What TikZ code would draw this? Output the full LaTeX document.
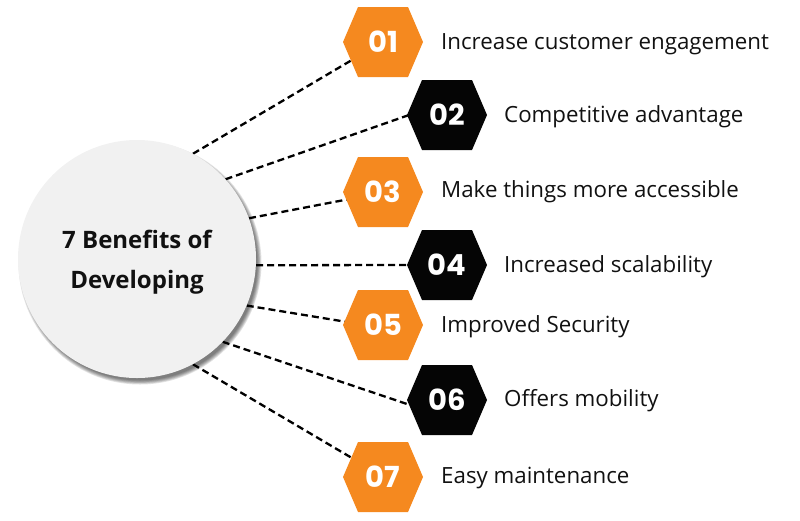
\documentclass[tikz,border=0pt]{standalone}
\usepackage{fontspec}
\setmainfont{Open Sans}
\newfontfamily\numfont{Poppins}
\definecolor{hexorange}{HTML}{F5891F}
\definecolor{hexblack}{HTML}{050505}
\definecolor{circfill}{HTML}{F1F1F1}
\definecolor{txt}{HTML}{111111}
\pgfdeclarelayer{bg}
\pgfsetlayers{bg,main}
\begin{document}
\begin{tikzpicture}[x=1pt,y=-1pt,
  hexnode/.style={rectangle, minimum width=80pt, minimum height=70pt, inner sep=0pt,
    text=white, font=\numfont\bfseries\fontsize{29}{30}\selectfont,
    path picture={\fill[#1]
      ([xshift=15pt]path picture bounding box.north west) --
      ([xshift=-15pt]path picture bounding box.north east) --
      (path picture bounding box.east) --
      ([xshift=-15pt]path picture bounding box.south east) --
      ([xshift=15pt]path picture bounding box.south west) --
      (path picture bounding box.west) -- cycle;}},
  link/.style={dash pattern=on 7pt off 4pt, line width=2.3pt, black},
  itemtext/.style={anchor=base west, inner sep=0pt, text=txt, font=\fontsize{22.3}{24}\selectfont}
]
\useasboundingbox (0,0) rectangle (800,520);

% central circle
\node[circle, fill=circfill, minimum size=238pt, inner sep=0pt, align=center, text=txt,
  font=\bfseries\fontsize{24}{30}\selectfont] (c) at (137,259) {};
\node[align=center, text=txt, inner sep=0pt, font=\bfseries\fontsize{24}{36}\selectfont]
  (title) at (137,262) {7 Benefits of\\[4pt]Developing};
\begin{pgfonlayer}{bg}
  \foreach \k in {0,1,2,3,4,5}
    \fill[black, opacity=0.11] ([shift={(3,4)}]c.center) circle ({117.5+\k*0.8});
\end{pgfonlayer}

% hexagons
\node[hexnode=hexorange] (h1) at (383,42) {01};
\node[hexnode=hexblack]  (h2) at (447,115) {02};
\node[hexnode=hexorange] (h3) at (383,192) {03};
\node[hexnode=hexblack]  (h4) at (447,265) {04};
\node[hexnode=hexorange] (h5) at (383,325) {05};
\node[hexnode=hexblack]  (h6) at (447,400) {06};
\node[hexnode=hexorange] (h7) at (383,477) {07};

% texts
\node[itemtext] (t1) at (441,49.5)  {Increase customer engagement};
\node[itemtext] (t2) at (504,122.5) {Competitive advantage};
\node[itemtext] (t3) at (441,197.5) {Make things more accessible};
\node[itemtext] (t4) at (504,272.5) {Increased scalability};
\node[itemtext] (t5) at (441,332.5) {Improved Security};
\node[itemtext] (t6) at (504,406.5) {Offers mobility};
\node[itemtext] (t7) at (441,483.5) {Easy maintenance};

% connectors
\begin{pgfonlayer}{bg}
  \draw[link] (c.62)  -- ([shift={(-26,15)}]h1.center);
  \draw[link] (c.42)  -- ([shift={(-38,0)}]h2.center);
  \draw[link] (c.20)  -- ([shift={(-36,7.5)}]h3.center);
  \draw[link] (c.-3)  -- ([shift={(-38,0)}]h4.center);
  \draw[link] (c.-23) -- ([shift={(-36,-3)}]h5.center);
  \draw[link] (c.-44) -- ([shift={(-37,5)}]h6.center);
  \draw[link] (c.-62) -- ([shift={(-26,-16)}]h7.center);
\end{pgfonlayer}
\end{tikzpicture}
\end{document}
